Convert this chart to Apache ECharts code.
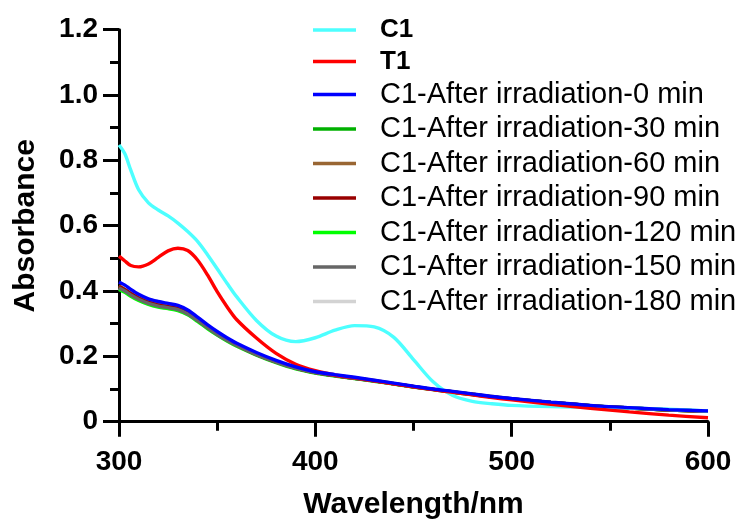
<!DOCTYPE html>
<html>
<head>
<meta charset="utf-8">
<script src="https://cdn.jsdelivr.net/npm/echarts@6/dist/echarts.min.js"></script>
<style>
html,body{margin:0;padding:0;background:#fff;}
#chart{width:746px;height:528px;}
</style>
</head>
<body>
<div id="chart"></div>
<script>
// Wavelengths (nm)
const wavelengths = [300,303,306,310,315,320,325,330,335,340,345,350,355,360,370,380,390,400,410,420,430,440,450,460,470,480,490,500,520,540,560,580,600];

const seriesNames = ['C1','T1','C1-After irradiation-0 min','C1-After irradiation-30 min','C1-After irradiation-60 min','C1-After irradiation-90 min','C1-After irradiation-120 min','C1-After irradiation-150 min','C1-After irradiation-180 min'];
const seriesColors = ['#4dffff','#ff0000','#0000ff','#00b000','#996633','#990000','#00ff00','#666666','#d3d3d3'];

const c1 = [0.847,0.820,0.770,0.710,0.670,0.648,0.630,0.608,0.582,0.552,0.512,0.468,0.424,0.382,0.310,0.262,0.245,0.257,0.280,0.294,0.290,0.258,0.190,0.122,0.080,0.062,0.055,0.050,0.046,0.044,0.042,0.038,0.033];
const t1 = [0.507,0.492,0.478,0.474,0.483,0.503,0.523,0.531,0.524,0.495,0.450,0.398,0.352,0.312,0.256,0.209,0.176,0.156,0.143,0.134,0.125,0.116,0.107,0.098,0.090,0.082,0.074,0.067,0.053,0.041,0.030,0.020,0.012];
const irr0 = [0.428,0.418,0.405,0.390,0.376,0.368,0.362,0.356,0.342,0.320,0.297,0.276,0.257,0.240,0.212,0.188,0.168,0.153,0.144,0.136,0.127,0.118,0.109,0.100,0.093,0.085,0.077,0.071,0.060,0.050,0.043,0.037,0.033];
const irr30 = [0.412,0.402,0.390,0.377,0.364,0.356,0.351,0.345,0.332,0.311,0.289,0.268,0.250,0.234,0.206,0.183,0.164,0.150,0.141,0.133,0.125,0.116,0.107,0.099,0.091,0.084,0.076,0.070,0.059,0.049,0.042,0.036,0.032];
const irr60 = [0.416,0.405,0.393,0.380,0.367,0.359,0.353,0.347,0.334,0.313,0.291,0.270,0.252,0.235,0.207,0.184,0.165,0.151,0.142,0.134,0.126,0.117,0.108,0.099,0.092,0.084,0.077,0.070,0.059,0.049,0.042,0.036,0.032];
const irr90 = [0.414,0.404,0.392,0.378,0.365,0.357,0.352,0.346,0.333,0.312,0.290,0.269,0.251,0.235,0.206,0.183,0.164,0.150,0.141,0.133,0.125,0.116,0.107,0.099,0.091,0.084,0.076,0.070,0.059,0.049,0.042,0.036,0.032];
const irr120 = [0.405,0.396,0.384,0.371,0.359,0.351,0.346,0.340,0.327,0.307,0.285,0.265,0.247,0.231,0.204,0.181,0.162,0.149,0.140,0.132,0.124,0.115,0.106,0.098,0.090,0.083,0.076,0.069,0.058,0.049,0.042,0.036,0.032];
const irr150 = [0.410,0.400,0.388,0.375,0.362,0.354,0.349,0.343,0.330,0.310,0.288,0.267,0.249,0.233,0.205,0.182,0.163,0.150,0.141,0.133,0.125,0.116,0.107,0.099,0.091,0.083,0.076,0.070,0.059,0.049,0.042,0.036,0.032];
const irr180 = [0.408,0.398,0.386,0.373,0.360,0.352,0.347,0.341,0.328,0.308,0.286,0.266,0.248,0.232,0.205,0.182,0.163,0.149,0.140,0.132,0.124,0.115,0.106,0.098,0.090,0.083,0.076,0.069,0.058,0.049,0.042,0.036,0.032];

const xTickLabels = ['300','400','500','600'];
const yTickLabels = ['0','0.2','0.4','0.6','0.8','1.0','1.2'];

const allValues = [c1,t1,irr0,irr30,irr60,irr90,irr120,irr150,irr180];
const zOrder = [5,5,6,3,3,3,2,3,1];

const FONT = "'Liberation Sans', Arial, Helvetica, sans-serif";

const chart = echarts.init(document.getElementById('chart'), null, {renderer:'canvas'});

const series = allValues.map((vals, i) => ({
  name: seriesNames[i],
  type: 'line',
  data: wavelengths.map((w, j) => [w, vals[j]]),
  showSymbol: false,
  smooth: 0.3,
  color: seriesColors[i],
  lineStyle: {width: 3.4, color: seriesColors[i]},
  z: zOrder[i],
  animation: false
}));

chart.setOption({
  animation: false,
  backgroundColor: '#ffffff',
  grid: {left: 119, right: 38, top: 29.7, bottom: 106.3, containLabel: false},
  legend: {
    left: 313, top: 17, orient: 'vertical',
    padding: 0, itemGap: 5.5,
    icon: 'rect', itemWidth: 43, itemHeight: 3.4,
    data: seriesNames,
    formatter: n => (n === 'C1' || n === 'T1') ? '{b|' + n + '}' : '{r|' + n + '}',
    textStyle: {
      padding: [0,0,0,19],
      rich: {
        b: {fontFamily: FONT, fontWeight: 'bold', fontSize: 26, lineHeight: 30, color: '#000'},
        r: {fontFamily: FONT, fontSize: 29, lineHeight: 30, color: '#000'}
      }
    },
    selectedMode: false
  },
  xAxis: {
    type: 'value', min: 300, max: 600, interval: 100,
    name: 'Wavelength/nm', nameLocation: 'middle', nameGap: 68,
    nameTextStyle: {fontFamily: FONT, fontWeight: 'bold', fontSize: 30, color: '#000'},
    axisLine: {show: true, lineStyle: {color: '#000', width: 3}},
    axisTick: {show: true, length: 15, lineStyle: {color: '#000', width: 3}},
    minorTick: {show: true, splitNumber: 2, length: 9, lineStyle: {color: '#000', width: 3}},
    splitLine: {show: false},
    axisLabel: {margin: 27, fontFamily: FONT, fontWeight: 'bold', fontSize: 28, color: '#000',
      formatter: v => xTickLabels[Math.round((v - 300) / 100)]}
  },
  yAxis: {
    type: 'value', min: 0, max: 1.2, interval: 0.2,
    name: 'Absorbance', nameLocation: 'middle', nameGap: 78, nameRotate: 90,
    nameTextStyle: {fontFamily: FONT, fontWeight: 'bold', fontSize: 30, color: '#000'},
    axisLine: {show: true, lineStyle: {color: '#000', width: 3}},
    axisTick: {show: true, length: 16, lineStyle: {color: '#000', width: 3}},
    minorTick: {show: true, splitNumber: 2, length: 9, lineStyle: {color: '#000', width: 3}},
    splitLine: {show: false},
    axisLabel: {margin: 21, fontFamily: FONT, fontWeight: 'bold', fontSize: 28, color: '#000',
      formatter: v => yTickLabels[Math.round(v / 0.2)]}
  },
  series: series
});
</script>
</body>
</html>
